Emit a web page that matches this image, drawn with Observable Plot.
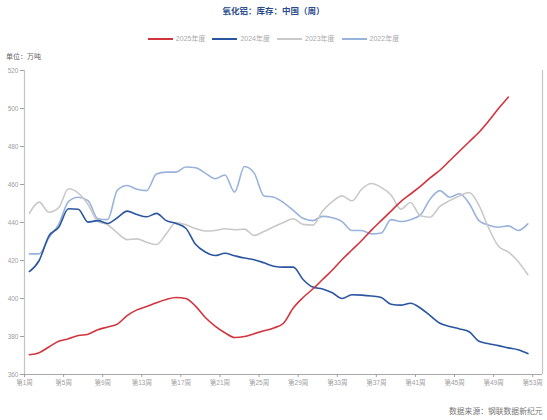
<!DOCTYPE html>
<html><head><meta charset="utf-8">
<script src="https://cdn.jsdelivr.net/npm/d3@7"></script>
<script src="https://cdn.jsdelivr.net/npm/@observablehq/plot@0.6"></script>
<style>
body{margin:0;width:547px;height:420px;overflow:hidden;background:#fff;font-family:"Liberation Sans","Noto Sans CJK SC",sans-serif;}
#head{position:relative;height:60px;}
#title{position:absolute;top:4px;left:0;width:547px;text-align:center;font-size:8.5px;font-weight:bold;color:#2b4c8c;font-family:"Noto Sans CJK SC",sans-serif;line-height:12px;}
#legend{position:absolute;top:34px;left:0;width:547px;display:flex;justify-content:center;gap:7px;font-size:7px;color:#aaa;line-height:10px;}
.item{display:flex;align-items:center;}
.sw{width:25px;height:2.5px;margin-right:3px;}
#unit{position:absolute;top:52px;left:6px;font-size:7px;color:#666;line-height:10px;}
#cap{position:relative;height:20px;}
#cap span{position:absolute;left:449px;top:7px;white-space:nowrap;font-size:7.8px;color:#777;line-height:10px;}
svg{display:block;}
</style></head>
<body>
<div id="head">
  <div id="title"></div>
  <div id="legend"></div>
  <div id="unit"></div>
</div>
<div id="chart"></div>
<div id="cap"><span></span></div>
<script>
const titleText = "氧化铝：库存：中国（周）";
const unitText = "单位：万吨";
const sourceText = "数据来源：钢联数据新纪元";
const seriesNames = ["2025年度", "2024年度", "2023年度", "2022年度"];
const seriesColors = ["#d2343d", "#2a55a0", "#c9c9c9", "#9ab3db"];
const yTicks = [360, 380, 400, 420, 440, 460, 480, 500, 520];
const xTickWeeks = [1, 5, 9, 13, 17, 21, 25, 29, 33, 37, 41, 45, 49, 53];
const xTickLabels = xTickWeeks.map(w => "第" + w + "周");

const v2025 = [370.4, 371.5, 374.5, 377.5, 378.8, 380.5, 381.2, 383.5, 385, 386.5,
  391, 394, 395.8, 397.8, 399.5, 400.5, 400, 396, 390, 385.5,
  382, 379.5, 380, 381.5, 383, 384.5, 387, 395, 400.5, 405,
  410, 415, 420.5, 425.5, 430.5, 436, 441, 446, 451, 455,
  459, 463.5, 467.5, 472.5, 477.5, 482.5, 487.5, 493.5, 500, 506];
const v2024 = [414.2, 420, 433, 437.5, 447.2, 447, 440.2, 441, 439.5, 442.5,
  446, 444.2, 443, 444.8, 441, 439.5, 437, 428.5, 424.5, 422.6,
  423.8, 422.5, 421.3, 420.4, 418.8, 417, 416.5, 416.5, 410, 406,
  405, 403, 400, 402, 401.8, 401.3, 400.5, 397, 396.5, 397.5,
  395, 391, 387, 385.3, 384, 382.5, 377.5, 376.2, 375.2, 374,
  373, 371];
const v2023 = [444.8, 450.7, 445.4, 447.8, 457.8, 455.5, 449.5, 440.5, 438.8, 434.5,
  431, 431.4, 429.6, 428.4, 434, 440, 438.8, 436.8, 435.5, 435.8,
  436.7, 436.2, 436.5, 433.2, 435.3, 437.8, 440, 442, 439, 438.6,
  446, 451, 454, 451.3, 457.5, 460.5, 458.5, 454.5, 447, 450.5,
  443.5, 442.8, 448.5, 451.5, 454, 455.8, 449, 437, 427.5, 424.5,
  419.5, 412.5];
const v2022 = [423.5, 423.5, 432, 439, 451, 453.3, 451.5, 442, 441.5, 457,
  459.5, 457.5, 456.8, 465.5, 466.5, 466.5, 469.2, 468.8, 466, 463,
  465, 456, 469.5, 466, 454, 453.3, 450.5, 446.4, 442.2, 441,
  443.2, 442.5, 440.5, 435.8, 435.8, 434, 434.5, 441.5, 440.5, 441.5,
  444, 452.3, 456.8, 453.3, 455.1, 450, 441, 438.6, 437.5, 438.2,
  435.8, 439.3];
const allValues = [v2025, v2024, v2023, v2022];

document.getElementById("title").textContent = titleText;
document.getElementById("unit").textContent = unitText;
document.querySelector("#cap span").textContent = sourceText;
const leg = document.getElementById("legend");
seriesNames.forEach((n, i) => {
  const it = document.createElement("div"); it.className = "item";
  const sw = document.createElement("div"); sw.className = "sw"; sw.style.background = seriesColors[i];
  const tx = document.createElement("span"); tx.textContent = n;
  it.appendChild(sw); it.appendChild(tx); leg.appendChild(it);
});

const rows = [];
allValues.forEach((vals, s) => vals.forEach((v, i) => rows.push({series: seriesNames[s], week: i + 1, value: v})));

const drawOrder = [3, 2, 1, 0];
const chart = Plot.plot({
  width: 547, height: 340,
  marginTop: 10, marginBottom: 26, marginLeft: 24, marginRight: 5,
  style: {fontFamily: '"Liberation Sans","Noto Sans CJK SC",sans-serif', background: "white"},
  x: {domain: [0, 53], axis: null},
  y: {domain: [360, 520], axis: null},
  marks: [
    Plot.ruleX([0], {stroke: "#c4c4c4", strokeWidth: 1.2}),
    Plot.ruleX([53], {stroke: "#c4c4c4", strokeWidth: 1.2}),
    Plot.ruleY([360], {stroke: "#a8a8a8", strokeWidth: 1}),
    Plot.axisY({ticks: yTicks, tickSize: 4, tickPadding: 2, fontSize: 6.5, color: "#a0a0a0", label: null}),
    Plot.axisX({ticks: xTickWeeks.map(w => w - 1), tickSize: 3, tickPadding: 3, fontSize: 6.5, color: "#a0a0a0", label: null,
      tickFormat: t => xTickLabels[xTickWeeks.indexOf(t + 1)]}),
    ...drawOrder.map(s => Plot.line(rows.filter(d => d.series === seriesNames[s]), {
      x: d => d.week - 0.5, y: "value", stroke: seriesColors[s], strokeWidth: 1.6, curve: "monotone-x"
    }))
  ]
});
document.getElementById("chart").appendChild(chart);
</script>
</body></html>
